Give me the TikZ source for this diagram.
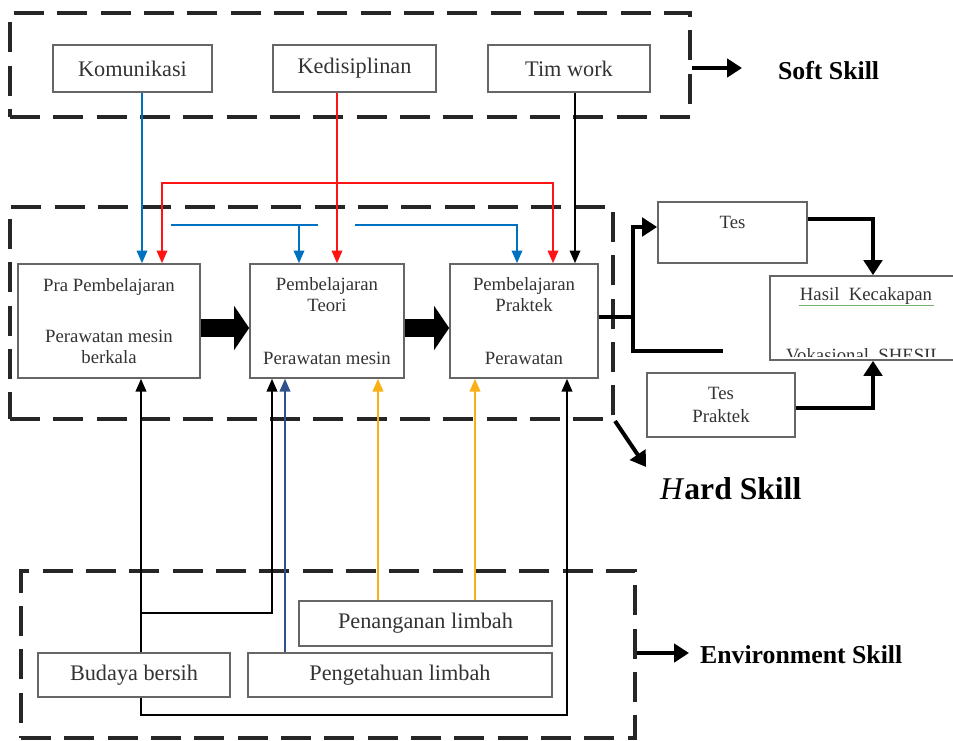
\documentclass[tikz,border=0pt]{standalone}
\usepackage{fontspec}
\setmainfont{Liberation Serif}
\usetikzlibrary{arrows.meta, positioning}
\definecolor{komblue}{RGB}{0,112,192}
\definecolor{disred}{RGB}{255,20,20}
\definecolor{limbahorange}{RGB}{250,176,20}
\definecolor{limbahnavy}{RGB}{47,82,143}
\tikzset{
	skillbox/.style={draw=black!60, line width=0.6mm, text=black!80, font=\fontsize{19}{22}\selectfont, inner sep=0pt}
}
\tikzset{
	stagebox/.style={draw=black!60, line width=0.5mm, text=black!80, font=\fontsize{16}{18}\selectfont, align=center, inner sep=0pt}
}
\tikzset{
	stagetext/.style={text=black!80, font=\fontsize{16}{18}\selectfont, inner sep=1pt}
}
\tikzset{
	skillframe/.style={draw=black!85, line width=1.2mm, dash pattern=on 9mm off 4mm}
}
\tikzset{
	skilltext/.style={font=\fontsize{22}{25}\selectfont\bfseries}
}
\tikzset{
	thinline/.style={line width=0.45mm},
	boldline/.style={line width=1.2mm},
	boldarrow/.style={line width=1.2mm, -{Triangle[length=4.5mm, width=5.5mm]}},
	bigarrow/.style={line width=5.4mm, -{Triangle[length=4.5mm, width=13mm]}}
}

\begin{document}
\begin{tikzpicture}[x=0.3mm, y=-0.3mm, >={Triangle[length=3.8mm, width=3.2mm]}]
      \useasboundingbox (0,0) rectangle (953,740);
      \node[skillframe, minimum width=204mm, minimum height=31.2mm] (softframe) at (350,65) {};
      \node[skillframe, minimum width=180.9mm, minimum height=63.6mm] (hardframe) at (311.5,313) {};
      \node[skillframe, minimum width=184.2mm, minimum height=50.1mm] (envframe) at (328,654.5) {};

      \node[skillbox, minimum width=47.7mm, minimum height=14.1mm] (kom) at (132.5,68.5) {Komunikasi};
      \node[skillbox, minimum width=48.9mm, minimum height=14.1mm] (kedi) at (354.5,68.5) {Kedisiplinan};
      \node[skillbox, minimum width=48.6mm, minimum height=14.1mm] (tim) at (569,68.5) {Tim work};

      \node[stagebox, minimum width=54.6mm, minimum height=34.2mm] (pra) at (109,321) {Pra Pembelajaran\\[26pt]Perawatan mesin\\berkala};
      \node[stagebox, minimum width=46.2mm, minimum height=34.2mm] (teori) at (327,321) {Pembelajaran\\Teori\\[27pt]Perawatan mesin};
      \node[stagebox, minimum width=44.4mm, minimum height=34.2mm] (praktek) at (524,321) {Pembelajaran\\Praktek\\[27pt]Perawatan};

      \node[stagebox, minimum width=44.7mm, minimum height=18.3mm] (tes) at (732.5,232.5) {};
      \node[stagetext] (testext) at (tes.north |- 0,222) {Tes};
      \node[stagebox, minimum width=60mm, minimum height=25.2mm] (hasil) at (870,318) {};
      \node[stagetext] (hasiltop) at (866,296) {Hasil\ \ Kecakapan};
      \draw[green!45!black!55, line width=0.25mm] (hasiltop.south west) -- (hasiltop.south east);
      \begin{scope}
        \clip (772,278) rectangle (970,356);
        \node[stagetext, anchor=base] (hasilbot) at (864,361) {Vokasional\ \ SHESIL};
      \end{scope}
      \node[stagebox, minimum width=44.4mm, minimum height=19.2mm, font=\fontsize{16}{20}\selectfont] (tespr) at (721,405) {Tes\\Praktek};

      \node[skillbox, minimum width=75.9mm, minimum height=13.5mm] (penang) at (425.5,623.5) {Penanganan limbah};
      \node[skillbox, minimum width=57.6mm, minimum height=13.2mm] (budaya) at (134,675) {Budaya bersih};
      \node[skillbox, minimum width=91.2mm, minimum height=13.2mm] (penget) at (400,675) {Pengetahuan limbah};

      \node[skilltext, anchor=west] (softlabel) at (774,71) {Soft Skill};
      \node[font=\fontsize{27}{30}\selectfont, anchor=west] (hardlabel) at (656,489) {{\itshape H}\textbf{ard Skill}};
      \node[skilltext, anchor=west] (envlabel) at (696,655) {Environment Skill};
      \coordinate (softtip) at (742,68);
      \coordinate (hardtip) at (646,467);
      \coordinate (envtip) at (689,653);
      \draw[boldarrow] (softframe.east |- softtip) -- (softtip);
      \draw[boldarrow] (hardframe.south east) -- (hardtip);
      \draw[boldarrow] (envframe.east |- envtip) -- (envtip);

      \draw[bigarrow] (pra.east |- 0,328) -- (teori.west |- 0,328);
      \draw[bigarrow] (teori.east |- 0,328) -- (praktek.west |- 0,328);

      \draw[thinline, komblue, ->] (142,0 |- kom.south) -- (142,0 |- pra.north);
      \draw[thinline, komblue] (171,225) -- (318,225);
      \draw[thinline, komblue, ->] (299,225) -- (299,0 |- teori.north);
      \draw[thinline, komblue, ->] (355,225) -| (517,0 |- praktek.north);
      \draw[thinline, disred, ->] (337,0 |- kedi.south) -- (337,0 |- teori.north);
      \coordinate (redtop) at (553,183);
      \draw[thinline, disred, <->] (162,0 |- pra.north) |- (redtop) -- (redtop |- praktek.north);
      \draw[thinline, ->] (575,0 |- tim.south) -- (575,0 |- praktek.north);

      \coordinate (split) at (633,317);
      \coordinate (openend) at (723,351);
      \draw[boldline] (praktek.east |- split) -- (split);
      \draw[boldarrow] (split) |- (tes.west |- 0,227);
      \draw[boldline] (split) |- (openend);
      \draw[boldarrow] (tes.east |- 0,219) -| (873,0 |- hasil.north);
      \draw[boldarrow] (tespr.east |- 0,408) -| (873,0 |- hasil.south);

      \coordinate (budstep) at (141,613);
      \coordinate (budloop) at (567,715);
      \draw[thinline, ->] (141,0 |- budaya.north) -- (141,0 |- pra.south);
      \draw[thinline, ->] (budstep) -| (272,0 |- teori.south);
      \draw[thinline, ->] (141,0 |- budaya.south) |- (budloop) -- (budloop |- praktek.south);
      \draw[thinline, limbahnavy, ->] (285,0 |- penget.north) -- (285,0 |- teori.south);
      \draw[thinline, limbahorange, ->] (378,0 |- penang.north) -- (378,0 |- teori.south);
      \draw[thinline, limbahorange, ->] (475,0 |- penang.north) -- (475,0 |- praktek.south);
    \end{tikzpicture}
\end{document}
